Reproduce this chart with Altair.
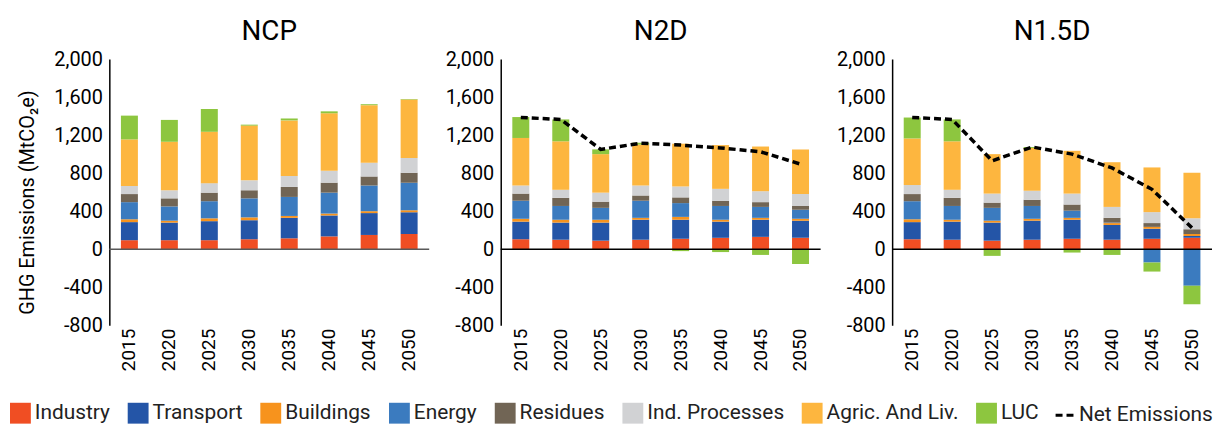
import altair as alt
import pandas as pd

YEARS = ["2015", "2020", "2025", "2030", "2035", "2040", "2045", "2050"]
SECTORS = ["Industry", "Transport", "Buildings", "Energy", "Residues",
           "Ind. Processes", "Agric. And Liv.", "LUC"]
COLORS = ["#F04E23", "#2455A7", "#F7931D", "#3B7BBF", "#716555",
          "#D1D2D4", "#FDB63F", "#8DC63F"]
Y_TICKS = [-800, -400, 0, 400, 800, 1200, 1600, 2000]

# NCP
NCP_INDUSTRY = [95, 95, 95, 105, 115, 135, 150, 160]
NCP_TRANSPORT = [190, 185, 200, 200, 215, 220, 230, 230]
NCP_BUILDINGS = [30, 20, 30, 30, 20, 20, 20, 20]
NCP_ENERGY = [180, 150, 180, 200, 200, 220, 270, 290]
NCP_RESIDUES = [85, 85, 90, 85, 105, 105, 95, 105]
NCP_INDPROC = [85, 85, 100, 105, 115, 125, 145, 155]
NCP_AGRIC = [490, 510, 540, 575, 585, 605, 605, 615]
NCP_LUC = [250, 230, 240, 10, 20, 20, 10, 5]

# N2D
N2D_INDUSTRY = [105, 100, 90, 100, 110, 120, 130, 120]
N2D_TRANSPORT = [185, 180, 190, 210, 200, 170, 180, 180]
N2D_BUILDINGS = [30, 30, 30, 20, 30, 20, 20, 20]
N2D_ENERGY = [190, 145, 125, 180, 145, 145, 115, 95]
N2D_RESIDUES = [75, 85, 65, 55, 60, 55, 50, 40]
N2D_INDPROC = [85, 85, 95, 105, 115, 125, 115, 125]
N2D_AGRIC = [500, 510, 405, 430, 450, 460, 470, 470]
N2D_LUC = [220, 230, 50, 20, -20, -30, -60, -155]
N2D_NET = [1385, 1365, 1050, 1115, 1095, 1065, 1025, 895]

# N1.5D
N15_INDUSTRY = [105, 100, 90, 100, 110, 100, 110, 120]
N15_TRANSPORT = [180, 190, 190, 200, 200, 155, 105, 20]
N15_BUILDINGS = [30, 20, 20, 20, 20, 20, 20, 20]
N15_ENERGY = [190, 145, 135, 135, 75, 5, -140, -385]
N15_RESIDUES = [75, 85, 55, 65, 65, 50, 40, 50]
N15_INDPROC = [95, 85, 95, 95, 115, 115, 115, 115]
N15_AGRIC = [490, 510, 415, 450, 450, 470, 470, 480]
N15_LUC = [220, 230, -70, 10, -35, -60, -95, -195]
N15_NET = [1385, 1365, 930, 1075, 1000, 855, 630, 225]

FONT = "Roboto"
LABEL_EXPR = "replace(datum.label, '\u2212', '-')"


def panel(name, arrays, net=None, first=False, zero_color="black"):
    rows = []
    for i, (sec, vals) in enumerate(zip(SECTORS, arrays)):
        for yr, v in zip(YEARS, vals):
            rows.append({"year": yr, "sector": sec, "value": v, "idx": i})
    df = pd.DataFrame(rows)

    yscale = alt.Scale(domain=[-800, 2000], nice=False, zero=False)
    xscale = alt.Scale(paddingInner=0.575, paddingOuter=0.29)
    xaxis = alt.Axis(title=None, labelAngle=-90, domain=False, ticks=False,
                     labelPadding=3, labelFontSize=19, labelColor="black")
    common = dict(values=Y_TICKS, tickCount=12, format=",.0f", labelExpr=LABEL_EXPR,
                  labelOverlap=False, grid=False, ticks=False,
                  domainColor="black", domainWidth=1.5, labelPadding=7,
                  labelFontSize=20, labelColor="black")
    if first:
        yaxis = alt.Axis(title="GHG Emissions (MtCO\u2082e)", titleFontSize=20,
                         titleFontWeight="normal", titleColor="black",
                         titlePadding=16, titleY=144, **common)
    else:
        yaxis = alt.Axis(title=None, **common)

    bars = alt.Chart(df).mark_bar().encode(
        x=alt.X("year:O", sort=YEARS, scale=xscale, axis=xaxis),
        y=alt.Y("value:Q", scale=yscale, axis=yaxis, stack="zero"),
        color=alt.Color("sector:N", scale=alt.Scale(domain=SECTORS, range=COLORS),
                        legend=alt.Legend(title=None, orient="none", direction="horizontal",
                                          legendX=-100, legendY=346, symbolType="square",
                                          symbolSize=441, symbolStrokeWidth=0,
                                          labelFontSize=21, labelColor="#222222",
                                          labelOffset=4, columnPadding=17.5, padding=0)),
        order=alt.Order("idx:Q"),
    )
    zero = alt.Chart(pd.DataFrame({"z": [0]})).mark_rule(
        color=zero_color, strokeWidth=1.5).encode(y=alt.datum(0))
    layers = [bars, zero]
    if net is not None:
        ldf = pd.DataFrame({"year": YEARS, "net": net, "series": "Net Emissions"})
        line = alt.Chart(ldf).mark_line(color="black", strokeWidth=3.5).encode(
            x=alt.X("year:O", sort=YEARS),
            y=alt.Y("net:Q"),
            strokeDash=alt.StrokeDash(
                "series:N",
                scale=alt.Scale(domain=["Net Emissions"], range=[[7, 4]]),
                legend=alt.Legend(title=None, orient="none", legendX=951, legendY=346,
                                  symbolType="stroke", symbolSize=480,
                                  symbolStrokeWidth=3, symbolStrokeColor="black",
                                  labelFontSize=21, labelColor="#222222",
                                  labelOffset=0, padding=0)),
        )
        layers.append(line)
    return alt.layer(*layers).properties(
        width=322, height=268,
        title=alt.TitleParams(name, fontSize=28, fontWeight="normal", color="black",
                              font=FONT, offset=3, frame="group"),
    )


p1 = panel("NCP", [NCP_INDUSTRY, NCP_TRANSPORT, NCP_BUILDINGS, NCP_ENERGY,
                   NCP_RESIDUES, NCP_INDPROC, NCP_AGRIC, NCP_LUC],
           first=True, zero_color="#595959")
p2 = panel("N2D", [N2D_INDUSTRY, N2D_TRANSPORT, N2D_BUILDINGS, N2D_ENERGY,
                   N2D_RESIDUES, N2D_INDPROC, N2D_AGRIC, N2D_LUC], net=N2D_NET)
p3 = panel("N1.5D", [N15_INDUSTRY, N15_TRANSPORT, N15_BUILDINGS, N15_ENERGY,
                     N15_RESIDUES, N15_INDPROC, N15_AGRIC, N15_LUC], net=N15_NET)

chart = alt.hconcat(p1, p2, p3, spacing=15).properties(
    padding={"left": 2, "top": 9, "right": 0, "bottom": 0}
).configure(font=FONT).configure_view(stroke=None)

chart.save("out.html", embed_options={"renderer": "svg", "actions": False})
